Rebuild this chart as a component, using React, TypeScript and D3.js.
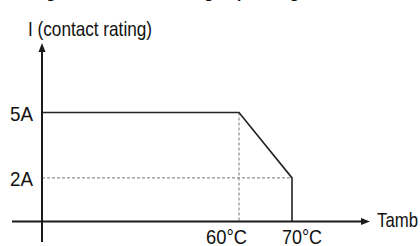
import React from "react";
import * as d3 from "d3";

const W = 420;
const H = 246;

// Derating curve: temperature (°C) vs contact rating current (A)
const temps = [0, 60, 70, 70];
const currents = [5, 5, 2, 0];
const yTickValues = [5, 2];
const yTickLabels = ["5A", "2A"];
const xTickValues = [60, 70];
const xTickLabels = ["60°C", "70°C"];
const yAxisTitle = "I (contact rating)";
const xAxisTitle = "Tamb";
const chartTitle = "Derating of the contact rating depending on the ambient temperature";

const x = d3.scaleLinear().domain([0, 60, 70]).range([42, 239, 292]);
const y = d3.scaleLinear().domain([0, 5]).range([221.5, 112.5]);

const FONT = "'Liberation Sans', Arial, sans-serif";

export default function App() {
  const pts: [number, number][] = temps.map((t, i) => [x(t), y(currents[i])]);
  const line = d3.line()(pts) || "";
  const x0 = x(0);
  const y0 = y(0);
  const axisColor = "#1a1a1a";

  const xTickLen = [41, 40];
  const xTickX = [206, 282];

  return (
    <svg
      width={W}
      height={H}
      style={{ position: "absolute", left: 0, top: 0, background: "#fff" }}
      fontFamily={FONT}
    >
      {/* clipped title (only descenders visible, as in the reference) */}
      <text
        x={-8}
        y={-2.5}
        fontSize={16}
        fontWeight="bold"
        fontStyle="italic"
        fill="#111"
      >
        {chartTitle}
      </text>

      {/* dotted guide lines */}
      {xTickValues.slice(0, 1).map((t) => (
        <line
          key={"vx" + t}
          x1={x(t)}
          x2={x(t)}
          y1={y(5)}
          y2={y0}
          stroke="#777"
          strokeWidth={1}
          strokeDasharray="3,2"
        />
      ))}
      <line
        x1={x0}
        x2={x(70)}
        y1={y(2)}
        y2={y(2)}
        stroke="#777"
        strokeWidth={1}
        strokeDasharray="3,2"
      />

      {/* curve */}
      <path d={line} fill="none" stroke="#222" strokeWidth={1.6} strokeLinejoin="miter" />

      {/* axes */}
      <line x1={12} x2={364} y1={y0} y2={y0} stroke={axisColor} strokeWidth={2} />
      <path d={`M370,${y0} L361,${y0 - 3.5} L361,${y0 + 3.5} Z`} fill={axisColor} />
      <line x1={x0} x2={x0} y1={242} y2={50} stroke={axisColor} strokeWidth={2} />
      <path d={`M${x0},43 L${x0 - 3.5},52 L${x0 + 3.5},52 Z`} fill={axisColor} />

      {/* y tick labels */}
      {yTickValues.map((v, i) => (
        <text
          key={"yl" + v}
          x={10}
          y={y(v) + 8.5}
          fontSize={21}
          textLength={23}
          lengthAdjust="spacingAndGlyphs"
          fill="#111"
        >
          {yTickLabels[i]}
        </text>
      ))}

      {/* x tick labels */}
      {xTickValues.map((v, i) => (
        <text
          key={"xl" + v}
          x={xTickX[i]}
          y={243.5}
          fontSize={21}
          textLength={xTickLen[i]}
          lengthAdjust="spacingAndGlyphs"
          fill="#111"
        >
          {xTickLabels[i]}
        </text>
      ))}

      {/* axis titles */}
      <text
        x={28}
        y={35.5}
        fontSize={21}
        textLength={124}
        lengthAdjust="spacingAndGlyphs"
        fill="#111"
      >
        {yAxisTitle}
      </text>
      <text
        x={377}
        y={227}
        fontSize={21}
        textLength={41}
        lengthAdjust="spacingAndGlyphs"
        fill="#111"
      >
        {xAxisTitle}
      </text>
    </svg>
  );
}
